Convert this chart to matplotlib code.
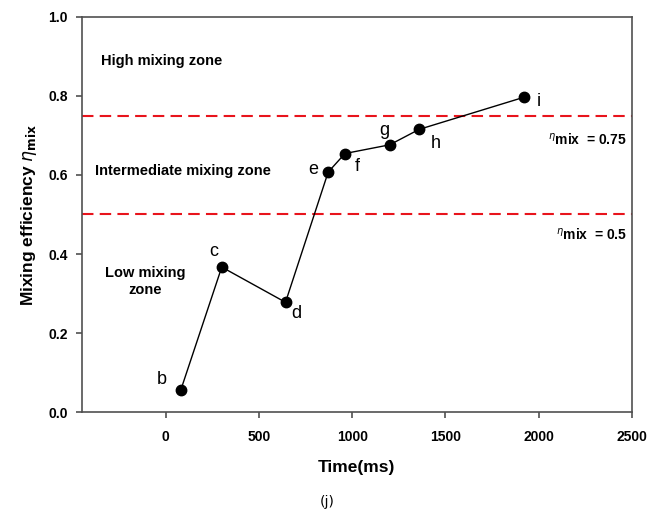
import numpy as np
import matplotlib
matplotlib.use('Agg')
import matplotlib.pyplot as plt

plt.rcParams['font.family'] = ['Liberation Sans', 'DejaVu Sans']

# Data
labels = ['b', 'c', 'd', 'e', 'f', 'g', 'h', 'i']
time_ms = [80, 300, 642, 871, 961, 1201, 1359, 1920]
eta_mix = [0.056, 0.367, 0.278, 0.607, 0.654, 0.676, 0.715, 0.796]
thresholds = [0.75, 0.5]
threshold_labels = ['0.75', '0.5']

# Offsets (points) for each point label
label_offsets = [(-14, 8), (-6, 11), (8, -8), (-11, 2), (9, -9), (-4, 10), (12, -10), (11, -3)]

fig = plt.figure(figsize=(6.48, 5.19), dpi=100)
ax = fig.add_axes([0.1265, 0.2056, 0.8485, 0.7624])

# Threshold lines
for t in thresholds:
    ax.axhline(t, color='#e8141c', lw=1.5, linestyle=(0, (5.5, 3)), zorder=1)

ax.plot(time_ms, eta_mix, color='black', lw=1.0, marker='o', markersize=7.5, zorder=3)

for lab, x, y, off in zip(labels, time_ms, eta_mix, label_offsets):
    ax.annotate(lab, (x, y), xytext=off, textcoords='offset points',
                ha='center', va='center', fontsize=13)

# Zone labels
ax.text(-350, 0.887, 'High mixing zone', fontsize=10.5, fontweight='bold', va='center')
ax.text(-382, 0.61, 'Intermediate mixing zone', fontsize=10.5, fontweight='bold', va='center')
ax.text(-110, 0.33, 'Low mixing\nzone', fontsize=10.5, fontweight='bold', va='center',
        ha='center', linespacing=1.25)

# Threshold annotations
for t, tl, yy in zip(thresholds, threshold_labels, [0.69, 0.45]):
    ax.text(2475, yy, r'$^{\eta}$mix  = ' + tl, fontsize=10, fontweight='bold',
            ha='right', va='center')

ax.set_xlim(-450, 2500)
ax.set_ylim(0, 1.0)
ax.set_xticks([0, 500, 1000, 1500, 2000, 2500])
ax.set_yticks([0.0, 0.2, 0.4, 0.6, 0.8, 1.0])
ax.set_yticklabels(['0.0', '0.2', '0.4', '0.6', '0.8', '1.0'])

for sp in ax.spines.values():
    sp.set_color('#505050')
    sp.set_linewidth(1.2)
ax.tick_params(direction='out', length=4, width=1.2, color='#505050', labelsize=10)
ax.tick_params(axis='x', pad=9)
ax.tick_params(axis='y', pad=6)
for lbl in ax.get_xticklabels() + ax.get_yticklabels():
    lbl.set_fontweight('bold')

ax.set_xlabel('Time(ms)', fontsize=12.5, fontweight='bold', labelpad=11)
ax.set_ylabel(r'Mixing efficiency $\eta_{\mathbf{mix}}$', fontsize=12.5, fontweight='bold', labelpad=7)

fig.text(0.505, 0.033, '(j)', fontsize=10, family='DejaVu Sans', ha='center', va='center')

fig.savefig('out.png', dpi=100)
